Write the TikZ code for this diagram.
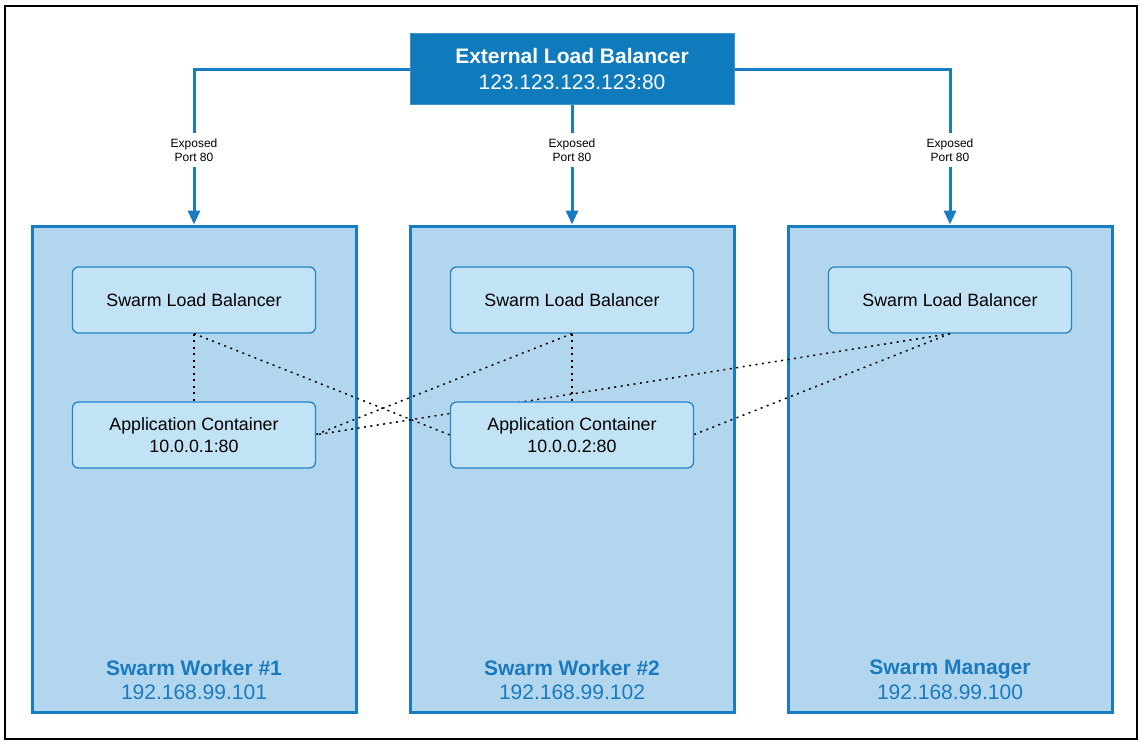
\documentclass[tikz,border=0pt]{standalone}
\usepackage{fontspec}
\setmainfont{Liberation Sans}
\usetikzlibrary{arrows.meta,positioning}
\definecolor{elbfill}{HTML}{0F7BBD}
\definecolor{wfill}{HTML}{B3D6EF}
\definecolor{wborder}{HTML}{1A7CC0}
\definecolor{ifill}{HTML}{C2E3F6}
\definecolor{iborder}{HTML}{2585C7}
\definecolor{ttl}{HTML}{1B7ABE}
\begin{document}
\begin{tikzpicture}[x=1pt,y=-1pt,
  worker/.style={draw=wborder,fill=wfill,line width=3pt,minimum width=324pt,minimum height=486pt,inner sep=0pt},
  inner/.style={draw=iborder,fill=ifill,line width=1.3pt,rounded corners=6pt,minimum width=243pt,minimum height=66pt,align=center,font=\fontsize{17.8}{22}\selectfont,inner sep=0pt},
  feed/.style={draw=wborder,line width=3pt},
  lbl/.style={fill=white,align=center,font=\fontsize{12}{14}\selectfont,inner sep=6pt},
  link/.style={line width=1.5pt,dash pattern=on 2pt off 4.5pt},
  wtitle/.style={text=ttl,align=center,inner sep=0pt,font=\fontsize{21}{24.5}\selectfont}
]
\useasboundingbox (0,0) rectangle (1141,740);
\draw[line width=2.5pt] (5,6) rectangle (1137,739);

\node[worker] (w1) at (194,469) {};
\node[worker] (w2) at (572,469) {};
\node[worker] (w3) at (950,469) {};

\node[wtitle] (t1) at (194,680) {\textbf{Swarm Worker \#1}\\192.168.99.101};
\node[wtitle] (t2) at (572,680) {\textbf{Swarm Worker \#2}\\192.168.99.102};
\node[wtitle] (t3) at (950,680) {\textbf{Swarm Manager}\\192.168.99.100};

\node[fill=elbfill,draw=elbfill!80!white,line width=1pt,minimum width=324pt,minimum height=71pt,text=white,align=center,inner sep=0pt,font=\fontsize{21}{26}\selectfont] (elb) at (572,69)
  {\textbf{External Load Balancer}\\123.123.123.123:80};

\draw[feed,-{Triangle[length=14pt,width=12pt]}] (elb.west) -| (w1.north);
\draw[feed,-{Triangle[length=14pt,width=12pt]}] (elb.south) -- (w2.north);
\draw[feed,-{Triangle[length=14pt,width=12pt]}] (elb.east) -| (w3.north);
\node[lbl] (l1) at (194,150) {Exposed\\Port 80};
\node[lbl] (l2) at (572,150) {Exposed\\Port 80};
\node[lbl] (l3) at (950,150) {Exposed\\Port 80};

\node[inner] (s1) at (194,300) {Swarm Load Balancer};
\node[inner] (s2) at (572,300) {Swarm Load Balancer};
\node[inner] (s3) at (950,300) {Swarm Load Balancer};

\draw[link] (s1.south) -- (194,402) coordinate (a1top);
\draw[link] (s2.south) -- (572,402) coordinate (a2top);
\draw[link] (s1.south) -- (450,435) coordinate (a2w);
\draw[link] (s2.south) -- (315,435) coordinate (a1e);
\draw[link] (s3.south) -- (a1e);
\draw[link] (s3.south) -- (693,435) coordinate (a2e);

\node[inner] (a1) at (194,435) {Application Container\\10.0.0.1:80};
\node[inner] (a2) at (572,435) {Application Container\\10.0.0.2:80};
\end{tikzpicture}
\end{document}
